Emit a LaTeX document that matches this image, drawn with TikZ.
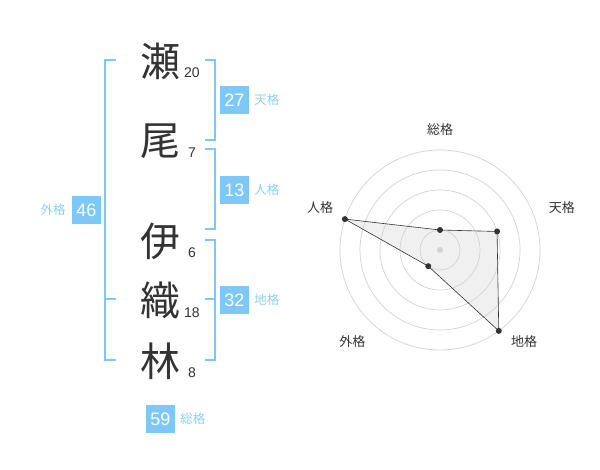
\documentclass[tikz,border=0pt]{standalone}
\usepackage{fontspec}
\setmainfont{Liberation Sans}
\newfontfamily\jp{Noto Sans CJK JP}
\usepackage{tikz}
\usetikzlibrary{positioning}
\definecolor{sky}{HTML}{7DC8F7}
\definecolor{skytext}{HTML}{8CCFF5}
\definecolor{ink}{HTML}{333333}
\definecolor{ring}{HTML}{D2D2D2}

\begin{document}
\begin{tikzpicture}[x=1pt,y=1pt,
        kanji/.style = {text=ink, font=\jp\fontsize{40}{40}\selectfont, inner sep=0},
        strokes/.style = {text=ink, font=\fontsize{14}{14}\selectfont, inner sep=0},
        box/.style = {fill=sky, text=white, font=\fontsize{18}{18}\selectfont, minimum width=29pt, minimum height=28pt, inner sep=0},
        kaku/.style = {text=skytext, font=\jp\fontsize{12.5}{12.5}\selectfont, inner sep=0},
        brk/.style = {draw=sky, line width=2pt},
        axis/.style = {text=ink, font=\jp\fontsize{13}{13}\selectfont, inner sep=0},
        dot/.style = {circle, fill=ink, inner sep=0, minimum size=6pt}]
        \useasboundingbox (0,0) rectangle (600,-470);
        % name and strokes
        \node[kanji] (k1) at (160,-61) {瀬};
        \node[kanji] (k2) at (160,-141) {尾};
        \node[kanji] (k3) at (160,-241) {伊};
        \node[kanji] (k4) at (160,-300) {織};
        \node[kanji] (k5) at (160,-361) {林};
        \node[strokes] (s1) at (192,-73) {20};
        \node[strokes] (s2) at (192,-153) {7};
        \node[strokes] (s3) at (192,-253) {6};
        \node[strokes] (s4) at (192,-313) {18};
        \node[strokes] (s5) at (192,-373) {8};
        % brackets
        \draw[brk] (116,-60) -- (105,-60) -- (105,-360) -- (116,-360);
        \draw[brk] (105,-299.5) -- (116,-299.5);
        \draw[brk] (205,-60) -- (215,-60) -- (215,-140) -- (205,-140);
        \draw[brk] (205,-149.5) -- (215,-149.5) -- (215,-229.5) -- (205,-229.5);
        \draw[brk] (205,-240) -- (215,-240) -- (215,-360) -- (205,-360);
        \draw[brk] (205,-299.5) -- (215,-299.5);
        % results
        \node[box] (ten) at (234.5,-100) {27};
        \node[kaku] (tenL) [right=5pt of ten] {天格};
        \node[box] (jin) at (234.5,-190) {13};
        \node[kaku] (jinL) [right=5pt of jin] {人格};
        \node[box] (chi) at (234.5,-300) {32};
        \node[kaku] (chiL) [right=5pt of chi] {地格};
        \node[box] (gai) at (86.5,-210) {46};
        \node[kaku] (gaiL) [left=6pt of gai] {外格};
        \node[box] (so) at (160.5,-419) {59};
        \node[kaku] (soL) [right=5pt of so] {総格};
        % radar
        \begin{scope}[shift={(440,-250)}]
                \coordinate (pSo) at (90:20);
                \coordinate (pTen) at (18:60);
                \coordinate (pChi) at (-54:100);
                \coordinate (pGai) at (-126:20);
                \coordinate (pJin) at (162:100);
                \fill[black!6] (pSo) -- (pTen) -- (pChi) -- (pGai) -- (pJin) -- cycle;
                \foreach \r in {20,40,...,100}
                        \draw[ring, line width=0.7pt] (0,0) circle (\r pt);
                \fill[ring] (0,0) circle (3pt);
                \draw[ink, line width=0.6pt] (pSo) -- (pTen) -- (pChi) -- (pGai) -- (pJin) -- cycle;
                \node[dot] at (pSo) {};
                \node[dot] at (pTen) {};
                \node[dot] at (pChi) {};
                \node[dot] at (pGai) {};
                \node[dot] at (pJin) {};
                \node[axis] (aSo) at (90:120) {総格};
                \node[axis] (aTen) at (19:129) {天格};
                \node[axis] (aChi) at (-47.6:124.6) {地格};
                \node[axis] (aGai) at (-133.7:127) {外格};
                \node[axis] (aJin) at (160.7:127) {人格};
        \end{scope}
        \end{tikzpicture}
\end{document}
